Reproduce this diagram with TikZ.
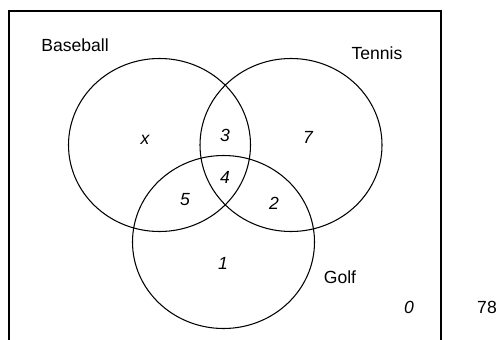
\documentclass[tikz,border=0pt]{standalone}
\usepackage{fontspec}
\setmainfont{Liberation Sans}
\usepackage{tikz}
\usetikzlibrary{shapes.geometric}

\begin{document}
\begin{tikzpicture}[
  font=\fontsize{10}{12}\selectfont,
  set/.style={
    draw=black,
    ellipse,
    line width=0.6pt,
    minimum width=3.64cm,
    minimum height=3.46cm,
    inner sep=0pt
  },
  setname/.style={
    inner sep=1pt
  },
  count/.style={
    font=\fontsize{10}{12}\selectfont\itshape,
    inner sep=1pt
  }
]

\useasboundingbox (0,0) rectangle (10.02,6.78);

% Universe box (bottom edge runs off the page)
\draw[line width=1.1pt] (0.18,-0.3) rectangle (8.82,6.56);

% -------------------------------------------------------------------
% the three sets
% -------------------------------------------------------------------
\node[set] (baseball) at (3.19,3.88) {};
\node[set] (tennis) at (5.82,3.88) {};
\node[set] (golf) at (4.47,1.94) {};

% set names
\node[setname] (baseballname) at (1.50,5.88) {Baseball};
\node[setname] (tennisname) at (7.54,5.72) {Tennis};
\node[setname] (golfname) at (6.80,1.24) {Golf};

% -------------------------------------------------------------------
% region counts
% -------------------------------------------------------------------
\node[count] (onlyB) at (2.90,3.98) {x};
\node[count] (BT) at (4.50,4.08) {3};
\node[count] (onlyT) at (6.16,4.04) {7};
\node[count] (BTG) at (4.50,3.24) {4};
\node[count] (BG) at (3.70,2.78) {5};
\node[count] (TG) at (5.48,2.72) {2};
\node[count] (onlyG) at (4.46,1.52) {1};
\node[count] (none) at (8.18,0.64) {0};

% total
\node[setname] (total) at (9.74,0.64) {78};

\end{tikzpicture}
\end{document}
